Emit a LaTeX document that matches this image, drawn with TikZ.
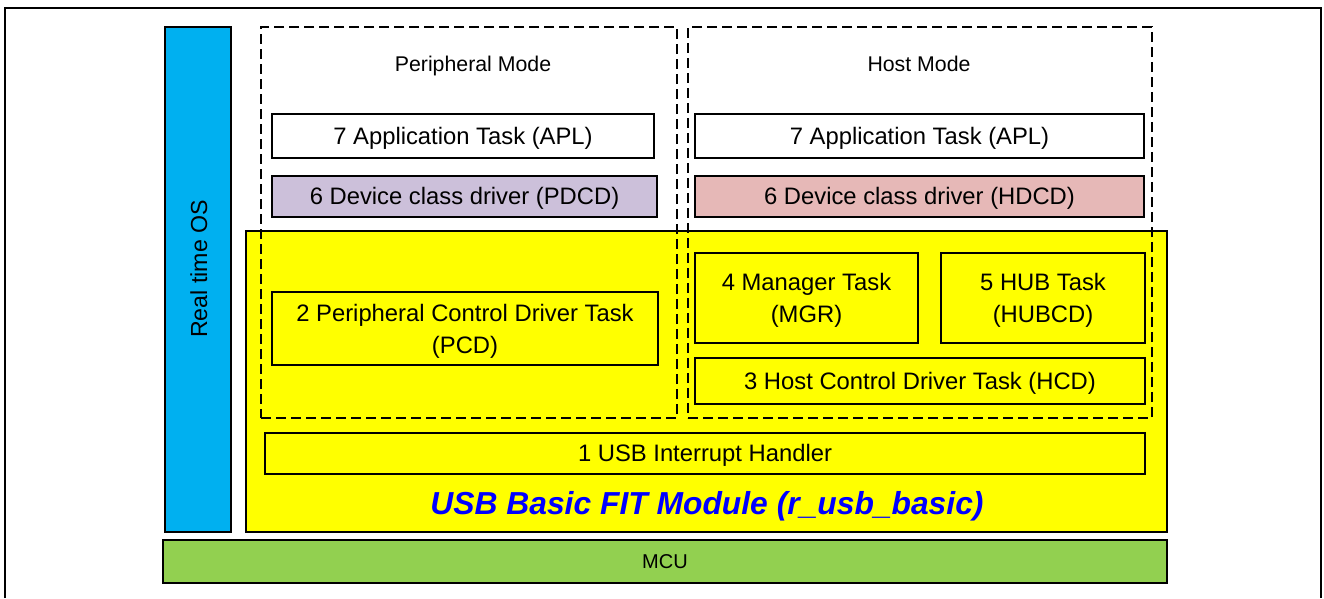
\documentclass[tikz,border=0pt]{standalone}
\usepackage{fontspec}
\setmainfont{Liberation Sans}
\definecolor{osblue}{HTML}{00B0F0}
\definecolor{fityellow}{HTML}{FFFF00}
\definecolor{mcugreen}{HTML}{92D050}
\definecolor{pdcdlilac}{HTML}{CCC0DA}
\definecolor{hdcdpink}{HTML}{E6B8B7}
% strut with the line box of the office font
\newcommand{\ofstrut}{\rule[-0.212em]{0pt}{1.117em}}
\tikzset{
  txt/.style={inner sep=0pt, align=center,
    execute at begin node=\ofstrut, execute at end node=\ofstrut},
  blk/.style={txt, draw, line width=1.8pt, rectangle,
    font=\fontsize{23.8}{32}\selectfont},
  twoline/.style={text height=54pt, text depth=5pt},
  modebox/.style={draw, line width=1.8pt, dash pattern=on 10pt off 5pt, rectangle, inner sep=0pt},
  modelabel/.style={txt, font=\fontsize{21.3}{24}\selectfont}
}
\begin{document}
\begin{tikzpicture}[x=1pt, y=-1pt]
        \useasboundingbox (0,0) rectangle (1324,598);
        % Draw outer frame
        \draw[line width=2.5pt] (5,598) -- (5,8) -- (1321,8) -- (1321,598);

        % Real time OS and MCU
        \node[blk, fill=osblue, minimum width=66pt, minimum height=505pt] (rtos) at (198,279.5) {};
        \node[txt, rotate=90, font=\fontsize{23.2}{26}\selectfont] (rtoslabel) at (199,269) {Real time OS};
        \node[blk, fill=mcugreen, minimum width=1004pt, minimum height=43pt,
          font=\fontsize{20}{24}\selectfont] (mcu) at (665,561.5) {MCU};

        % USB basic module
        \node[blk, fill=fityellow, minimum width=921pt, minimum height=301pt] (fit) at (706.5,381.5) {};
        \node[txt, text=blue, font=\fontsize{31.8}{36}\selectfont\bfseries\itshape] (fitlabel) at (707,503)
          {USB Basic FIT Module (r\_usb\_basic)};

        % Peripheral and host mode frames
        \node[modebox, minimum width=416pt, minimum height=391pt] (periph) at (469,222.5) {};
        \node[modebox, minimum width=464pt, minimum height=391pt] (host) at (920,222.5) {};
        \node[modelabel] (periphlabel) at (473,64.5) {Peripheral Mode};
        \node[modelabel] (hostlabel) at (919,64.5) {Host Mode};

        % Peripheral side tasks
        \node[blk, fill=white, minimum width=382pt, minimum height=44pt] (aplp) at (463,136) {7 Application Task (APL)};
        \node[blk, fill=pdcdlilac, minimum width=385pt, minimum height=41pt] (pdcd) at (464.5,196.5) {6 Device class driver (PDCD)};
        \node[blk, twoline, minimum width=386pt, minimum height=73pt] (pcd) at (465,328.5) {2 Peripheral Control Driver Task\\(PCD)};

        % Host side tasks
        \node[blk, fill=white, minimum width=449pt, minimum height=44pt] (aplh) at (919.5,136) {7 Application Task (APL)};
        \node[blk, fill=hdcdpink, minimum width=449pt, minimum height=41pt] (hdcd) at (919.5,196.5) {6 Device class driver (HDCD)};
        \node[blk, twoline, minimum width=223pt, minimum height=90pt] (mgr) at (806.5,298) {4 Manager Task\\(MGR)};
        \node[blk, twoline, minimum width=204pt, minimum height=90pt] (hub) at (1043,298) {5 HUB Task\\(HUBCD)};
        \node[blk, minimum width=450pt, minimum height=46pt] (hcd) at (920,381) {3 Host Control Driver Task (HCD)};

        % Interrupt handler
        \node[blk, minimum width=880pt, minimum height=41pt] (irq) at (705,453.5) {1 USB Interrupt Handler};
    \end{tikzpicture}
\end{document}
